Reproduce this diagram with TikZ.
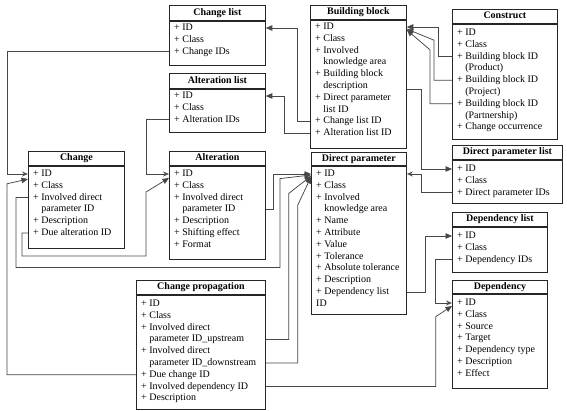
\documentclass[tikz,border=0pt]{standalone}
\usepackage{fontspec}
\setmainfont{Liberation Serif}
\usetikzlibrary{arrows.meta}
\tikzset{
 ttlbox/.style={draw=black!85, line width=0.8pt, anchor=north west, inner sep=0pt, text height=7pt, text depth=2pt, font=\fontsize{10}{12}\selectfont\bfseries},
 bodybox/.style={draw=black!85, line width=0.8pt, anchor=north west, inner sep=0pt},
 itm/.style={anchor=west, inner sep=0pt, text height=7pt, text depth=2pt, font=\fontsize{10}{12}\selectfont, text=black},
 conn/.style={draw=black!72, line width=0.75pt},
 fa/.style={-{Triangle[length=6.5pt,width=5.5pt]}},
 oa/.style={-{Stealth[open,length=6pt,width=5pt]}},
}
\newcommand\umlbox[7]{%
 \node[ttlbox, minimum width=#4pt, minimum height=#5pt] (#1) at (#2,#3) {#7};
 \node[bodybox, minimum width=#4pt, minimum height=#6pt] (#1b) at (#1.south west) {};
}
\newcommand\umlitems[4]{%
 \foreach \t [count=\i] in {#4} \node[itm] (#1\i) at ({#2+5},{#3+11.8*(\i-1)}) {\t};
}
\begin{document}
\begin{tikzpicture}[x=1pt,y=-1pt]
\useasboundingbox (0,0) rectangle (567,411);

\umlbox{cl}{169}{5}{96}{15}{44}{Change list}
\umlitems{cl}{169}{28}{+ ID,+ Class,+ Change IDs}
\umlbox{al}{169}{73}{96}{15}{43}{Alteration list}
\umlitems{al}{169}{96}{+ ID,+ Class,+ Alteration IDs}
\umlbox{bb}{310}{5}{96}{14}{128}{Building block}
\umlitems{bb}{310}{27}{+ ID,+ Class,+ Involved,\phantom{+ }knowledge area,+ Building block,\phantom{+ }description,+ Direct parameter,\phantom{+ }list ID,+ Change list ID,+ Alteration list ID}
\umlbox{co}{452}{9}{105}{14}{115}{Construct}
\umlitems{co}{452}{33}{+ ID,+ Class,+ Building block ID,\phantom{+ }(Product),+ Building block ID,\phantom{+ }(Project),+ Building block ID,\phantom{+ }(Partnership),+ Change occurrence}
\umlbox{ch}{28}{151}{96}{14}{82}{Change}
\umlitems{ch}{28}{174}{+ ID,+ Class,+ Involved direct,\phantom{+ }parameter ID,+ Description,+ Due alteration ID}
\umlbox{alt}{169}{151}{96}{14}{93}{Alteration}
\umlitems{alt}{169}{174}{+ ID,+ Class,+ Involved direct,\phantom{+ }parameter ID,+ Description,+ Shifting effect,+ Format}
\umlbox{dp}{311}{152}{95}{13}{148}{Direct parameter}
\umlitems{dp}{311}{174}{+ ID,+ Class,+ Involved,\phantom{+ }knowledge area,+ Name,+ Attribute,+ Value,+ Tolerance,+ Absolute tolerance,+ Description,+ Dependency list,ID}
\umlbox{dpl}{452}{145}{110}{14}{43}{Direct parameter list}
\umlitems{dpl}{452}{169}{+ ID,+ Class,+ Direct parameter IDs}
\umlbox{dl}{452}{212}{95}{14}{45}{Dependency list}
\umlitems{dl}{452}{236}{+ ID,+ Class,+ Dependency IDs}
\umlbox{dep}{452}{280}{95}{13}{94}{Dependency}
\umlitems{dep}{452}{303}{+ ID,+ Class,+ Source,+ Target,+ Dependency type,+ Description,+ Effect}
\umlbox{cp}{136}{280}{129}{14}{114}{Change propagation}
\umlitems{cp}{136}{304}{+ ID,+ Class,+ Involved direct,\phantom{+ }parameter ID\_upstream,+ Involved direct,\phantom{+ }parameter ID\_downstream,+ Due change ID,+ Involved dependency ID,+ Description}

% connectors
\draw[conn,oa] (cl3 -| clb.west) -- ++(-162,0) |- (ch1 -| chb.west);
\draw[conn,oa] (al3 -| alb.west) -- ++(-23,0) |- (alt1 -| altb.west);
\draw[conn,fa] (ch6 -| chb.west) -- ++(-6,0) -- ++(0,23) -- ++(124,0) -- ++(0,-64) -- ([yshift=-4pt]alt1 -| altb.west);
\draw[conn,fa] (ch3 -| chb.west) -- ++(-12,0) -- ++(0,70) -- ++(264,0) -- ++(0,-89) -- ([yshift=-1pt]dp1 -| dpb.west);
\draw[conn,fa] (cp7 -| cpb.west) -- ++(-129,0) -- ++(0,-191) -- ([yshift=-5pt]ch1 -| chb.west);
\draw[conn,fa] (cp8 -| cpb.east) -- ++(170,0) -- ++(0,-70) -- ([yshift=-3pt]dep1 -| depb.west);
\draw[conn,oa] (dl3 -| dlb.west) -- ++(-17,0) |- (dep1 -| depb.west);
\draw[conn,fa] (dp11 -| dpb.east) -- ++(19,0) |- (dl1 -| dlb.west);
\draw[conn,oa] (dpl3 -| dplb.west) -- ++(-31,0) |- (dp1 -| dpb.east);
\draw[conn,fa] ([yshift=-3pt]bb6 -| bbb.east) -- ++(15,0) |- (dpl1 -| dplb.west);
\draw[conn,fa] (bb9 -| bbb.west) -- ++(-13,0) |- (cl1 -| clb.east);
\draw[conn,fa] (bb10 -| bbb.west) -- ++(-26,0) |- (al1 -| alb.east);
\draw[conn,fa] (co3 -| cob.west) -- ++(-14,0) |- (bb1 -| bbb.east);
\draw[conn,fa] (co5 -| cob.west) -- ++(-18,0) -- ++(0,-40) -- ([yshift=-2pt]bb1 -| bbb.east);
\draw[conn,fa] (co7 -| cob.west) -- ++(-22,0) -- ++(0,-54) -- ([yshift=-3pt]bb1 -| bbb.east);
\draw[conn,fa] (cp4 -| cpb.east) -- ++(23,0) -- ++(0,-146) -- ([yshift=-2pt]dp1 -| dpb.west);
\draw[conn,fa] (cp6 -| cpb.east) -- ++(32,0) -- ++(0,-158) -- ([yshift=-3pt]dp1 -| dpb.west);
\draw[conn,fa] (alt4 -| altb.east) -- ++(8,0) |- (dp1 -| dpb.west);
\end{tikzpicture}
\end{document}
